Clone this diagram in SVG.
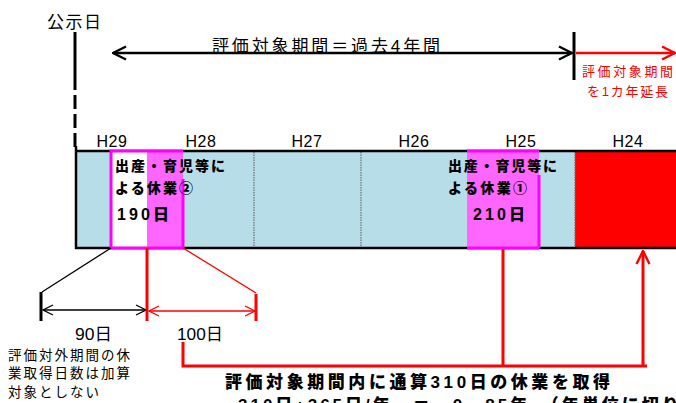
<svg xmlns="http://www.w3.org/2000/svg" width="676" height="403" viewBox="0 0 676 403">
<defs>
<style>
.jp{font-family:"Liberation Sans","Noto Sans CJK JP",sans-serif;fill:#000}
.yr{font-family:"Liberation Sans",sans-serif;font-size:16px;text-anchor:middle;fill:#000;letter-spacing:0.5px}
.b{font-weight:900}
.red{fill:#ff0000}
.dv{stroke:#6e6e6e;stroke-width:1.2;stroke-dasharray:1.5 1;fill:none}
.mg{stroke:#ff00ff;stroke-width:3;fill:none}
.blk{stroke:#000;fill:none}
.rl{stroke:#ff0000;fill:none}
</style>
<marker id="ab" viewBox="0 0 16 16" refX="15" refY="8" markerWidth="16" markerHeight="16" markerUnits="userSpaceOnUse" orient="auto-start-reverse">
<path d="M2,1.5 L15,8 L2,14.5" fill="none" stroke="#000" stroke-width="2.4"/>
</marker>
<marker id="ar" viewBox="0 0 16 16" refX="15" refY="8" markerWidth="16" markerHeight="16" markerUnits="userSpaceOnUse" orient="auto-start-reverse">
<path d="M2,1.5 L15,8 L2,14.5" fill="none" stroke="#ff0000" stroke-width="2.4"/>
</marker>
<marker id="abs" viewBox="0 0 12 12" refX="11" refY="6" markerWidth="12" markerHeight="12" markerUnits="userSpaceOnUse" orient="auto-start-reverse">
<path d="M1,1 L11,6 L1,11" fill="none" stroke="#000" stroke-width="1.3"/>
</marker>
<marker id="ars" viewBox="0 0 12 12" refX="11" refY="6" markerWidth="12" markerHeight="12" markerUnits="userSpaceOnUse" orient="auto-start-reverse">
<path d="M1,1 L11,6 L1,11" fill="none" stroke="#ff0000" stroke-width="1.3"/>
</marker>
</defs>
<rect width="676" height="403" fill="#fff"/>

<g id="bar">
<rect x="76" y="152" width="500" height="96" fill="#b7dde8"/>
<rect x="575" y="152" width="101" height="96" fill="#ff0000"/>
<path class="dv" d="M254,152V248M361,152V248M575,152V248M147,222V248M468,200V248"/>
<line x1="75" y1="151" x2="676" y2="151" stroke="#000" stroke-width="2.5"/>
<line x1="75" y1="248" x2="676" y2="248" stroke="#000" stroke-width="2.5"/>
</g>

<g id="leave2">
<rect x="111" y="152" width="36" height="96" fill="#fff"/>
<rect x="147" y="152" width="36" height="96" fill="#ff66ff"/>
<path class="mg" d="M183,179V248H111V151H183"/>
<text class="jp b" x="115" y="171" font-size="14" textLength="110" lengthAdjust="spacing">出産・育児等に</text>
<text class="jp b" x="115" y="193" font-size="14" textLength="78" lengthAdjust="spacing">よる休業②</text>
<text class="jp b" x="117" y="220" font-size="16" textLength="52" lengthAdjust="spacing">190日</text>
</g>

<g id="leave1">
<rect x="467" y="152" width="72" height="96" fill="#ff66ff"/>
<path class="mg" d="M467,151H539M467,248H539M539,175V248"/>
<text class="jp b" x="448" y="171" font-size="14" textLength="109" lengthAdjust="spacing">出産・育児等に</text>
<text class="jp b" x="448" y="193" font-size="14" textLength="79" lengthAdjust="spacing">よる休業①</text>
<text class="jp b" x="473" y="220" font-size="16" textLength="52" lengthAdjust="spacing">210日</text>
</g>

<g id="years">
<text class="yr" x="112" y="147">H29</text>
<text class="yr" x="201" y="147">H28</text>
<text class="yr" x="307" y="147">H27</text>
<text class="yr" x="414" y="147">H26</text>
<text class="yr" x="521" y="147">H25</text>
<text class="yr" x="628" y="147">H24</text>
</g>

<g id="announce">
<text class="jp" x="47" y="28" font-size="17" letter-spacing="1.5">公示日</text>
<line x1="75" y1="32" x2="75" y2="90" stroke="#000" stroke-width="3"/>
<line x1="75" y1="95" x2="75" y2="150" stroke="#000" stroke-width="3" stroke-dasharray="14 5"/>
<line x1="76" y1="146" x2="76" y2="249" stroke="#000" stroke-width="2.5"/>
</g>

<g id="period">
<line x1="574" y1="32" x2="574" y2="80" stroke="#000" stroke-width="3"/>
<text class="jp" x="212" y="52" font-size="17" textLength="228" lengthAdjust="spacing">評価対象期間＝過去4年間</text>
<text class="jp red" x="582" y="76" font-size="13" textLength="91" lengthAdjust="spacing">評価対象期間</text>
<text class="jp red" x="587" y="96" font-size="13" textLength="81" lengthAdjust="spacing">を1カ年延長</text>
</g>

<g id="notes">
<text class="jp" x="75" y="340" font-size="17" textLength="37" lengthAdjust="spacingAndGlyphs">90日</text>
<text class="jp" x="177" y="340" font-size="17" textLength="46" lengthAdjust="spacingAndGlyphs">100日</text>
<text class="jp" x="8" y="360" font-size="13.5" letter-spacing="2">評価対外期間の休</text>
<text class="jp" x="8" y="378" font-size="13.5" letter-spacing="2">業取得日数は加算</text>
<text class="jp" x="8" y="397" font-size="13.5" letter-spacing="2">対象としない</text>
<text class="jp b" x="225" y="388" font-size="17" textLength="385" lengthAdjust="spacing">評価対象期間内に通算310日の休業を取得</text>
<text class="jp b" x="238" y="411" font-size="17" letter-spacing="3">310日÷365日/年　＝　0．85年　（年単位に切り捨て）</text>
</g>

<g id="connectors">
<line x1="113" y1="53" x2="572" y2="53" stroke="#000" stroke-width="2.4" marker-start="url(#ab)" marker-end="url(#ab)"/>
<line x1="576" y1="53" x2="675" y2="53" stroke="#ff0000" stroke-width="2.4" marker-end="url(#ar)"/>
<path class="blk" d="M111,248L42,292" stroke-width="1.3"/>
<line x1="41" y1="292" x2="41" y2="321" stroke="#000" stroke-width="3"/>
<line x1="43" y1="310" x2="146" y2="310" stroke="#000" stroke-width="1.3" marker-start="url(#abs)" marker-end="url(#abs)"/>
<line x1="147" y1="248" x2="147" y2="321" stroke="#ff0000" stroke-width="3"/>
<line x1="149" y1="311" x2="255" y2="311" stroke="#ff0000" stroke-width="1.3" marker-start="url(#ars)" marker-end="url(#ars)"/>
<path class="rl" d="M183,248L256,293" stroke-width="1.3"/>
<line x1="256" y1="294" x2="256" y2="321" stroke="#ff0000" stroke-width="3"/>
<path class="rl" d="M183,342V366H647" stroke-width="3"/>
<line x1="503" y1="249" x2="503" y2="366" stroke="#ff0000" stroke-width="3"/>
<line x1="643" y1="366" x2="643" y2="251" stroke="#ff0000" stroke-width="3" marker-end="url(#ar)"/>
</g>
</svg>
